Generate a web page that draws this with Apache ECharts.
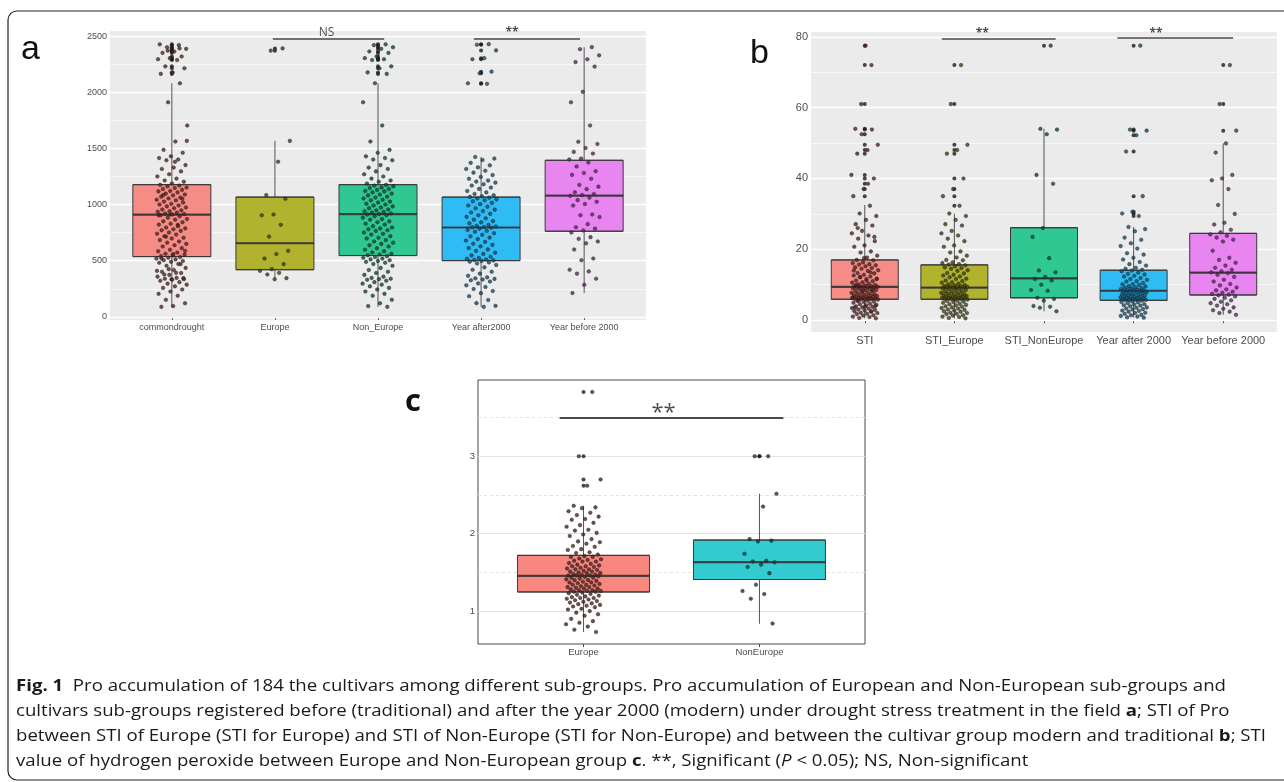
<!DOCTYPE html>
<html><head><meta charset="utf-8">
<script src="https://cdn.jsdelivr.net/npm/echarts@6/dist/echarts.min.js"></script>
<style>html,body{margin:0;padding:0;background:#fff}#c{width:1284px;height:782px}</style>
</head><body><div id="c"></div>
<script>
// ================= DATA =================
// ---- panel a : Pro accumulation ----
const catsA = ['commondrought', 'Europe', 'Non_Europe', 'Year after2000', 'Year before 2000'];
const ticksA = [0, 500, 1000, 1500, 2000, 2500];
const aEurope = [2392, 2372, 1568, 1382, 1085, 1052, 912, 905, 820, 715, 588, 560, 520, 470, 425, 410, 392, 378, 345, 335];
const aNonEurope = [2428, 2421, 2402, 2388, 2365, 2352, 2320, 2305, 2296, 2288, 2232, 2215, 2178, 2165,
  2081, 1912, 1705, 1562, 1488, 1462, 1430, 1415, 1402, 1395, 1352, 1330, 1318, 1296, 1270, 1251, 1232, 1215, 1204, 1188,
  1176, 1170, 1163, 1152, 1148, 1139, 1131, 1122, 1118, 1109, 1098, 1090, 1082, 1071, 1063, 1055, 1044, 1038, 1027, 1019, 1008, 1001, 992, 984, 975, 968, 957, 949, 941, 936, 929, 921, 917,
  912, 905, 896, 884, 872, 866, 851, 843, 830, 822, 808, 796, 788, 781, 772, 766, 752, 741, 733, 718, 705, 698, 684, 672, 661, 650, 638, 627, 612, 598, 585, 574, 562, 555, 548,
  541, 533, 527, 519, 512, 505, 498, 490, 482, 471, 455, 436, 418, 402, 391, 374, 358, 347, 340, 336, 331, 322, 309, 296, 287, 272, 258, 244, 226, 205, 188, 152, 121, 96, 89];
const aYearAfter = [2430, 2425, 2374, 2305, 2296, 2185, 2170, 2081, 2076,
  1425, 1410, 1398, 1372, 1350, 1332, 1318, 1302, 1285, 1263, 1247, 1230, 1214, 1205, 1196, 1182, 1170, 1152, 1140, 1121, 1109, 1095, 1083, 1075, 1069,
  1062, 1055, 1047, 1039, 1030, 1016, 1004, 992, 981, 968, 955, 943, 930, 918, 905, 891, 878, 866, 853, 842, 833, 821, 812, 805, 800, 798,
  794, 786, 775, 766, 758, 745, 731, 718, 706, 693, 680, 668, 652, 641, 628, 613, 601, 588, 572, 561, 548, 536, 525, 518, 511, 506, 503,
  498, 492, 485, 476, 462, 441, 420, 402, 385, 366, 352, 343, 338, 333, 326, 315, 298, 281, 266, 248, 230, 211, 184, 150, 122, 98, 89];
const aYearBefore = [2403, 2385, 2330, 2295, 2270, 2230, 2005, 1912, 1705, 1560, 1540, 1505, 1470, 1455, 1410, 1402,
  1375, 1340, 1298, 1282, 1265, 1230, 1175, 1160, 1138, 1110, 1095, 1085,
  1078, 1062, 1040, 1025, 1005, 992, 912, 905, 890, 826, 798, 786, 770,
  752, 710, 695, 672, 655, 600, 520, 505, 420, 405, 385, 340, 285, 212];
// box statistics: [lower whisker, Q1, median, Q3, upper whisker]
const aStats = [[85, 537, 910, 1178, 2081], [335, 420, 656, 1067, 1568], [89, 546, 915, 1178, 2081], [89, 501, 796, 1067, 1425], [212, 763, 1080, 1395, 2403]];

// ---- panel b : STI ----
const catsB = ['STI', 'STI_Europe', 'STI_NonEurope', 'Year after 2000', 'Year before 2000'];
const ticksB = [0, 20, 40, 60, 80];
const bEurope = [72, 61, 49.5, 48, 47, 40, 37, 35, 32.3,
  30.1, 29.4, 28.3, 27.1, 26.7, 25.2, 24.5, 23.9, 23.0, 22.3, 21.1, 20.7, 19.4, 19.1, 18.2, 17.7, 17.0, 16.9, 16.3, 16.1, 15.8, 15.7,
  15.5, 15.2, 14.9, 14.7, 14.5, 14.1, 13.9, 13.3, 13.2, 12.8, 12.6, 12.3, 12.1, 11.7, 11.6, 11.2, 11.0, 10.7, 10.6, 10.3, 10.1, 9.9, 9.8, 9.6, 9.6, 9.5, 9.4, 9.3, 9.3, 9.2,
  9.1, 9.0, 8.8, 8.7, 8.5, 8.4, 8.2, 8.1, 7.9, 7.7, 7.6, 7.5, 7.3, 7.2, 7.1, 7.0, 6.8, 6.8, 6.6, 6.6, 6.5, 6.3, 6.3, 6.2, 6.2, 6.1, 6.0, 6.0, 5.9, 5.9,
  5.8, 5.5, 5.4, 5.2, 5.1, 4.9, 4.6, 4.5, 4.3, 4.2, 3.9, 3.8, 3.6, 3.4, 3.3, 3.0, 2.9, 2.7, 2.5, 2.4, 2.1, 2.0, 1.8, 1.7, 1.4, 1.3, 1.0, 0.9, 0.6, 0.5];
const bNonEurope = [77.5, 54, 53.8, 52.5, 41, 38.5, 26, 23.5, 17.5, 14, 13.5, 12.2, 11.6, 11.2, 10, 8.5, 8.3, 6.3, 6, 5.5, 4, 3.8, 3.5, 2.5];
const bYearAfter = [77.5, 53.8, 53.5, 52.2, 47.6, 35, 30.6, 30.1, 29.4,
  26.3, 25.7, 25.1, 23.3, 22.7, 21.7, 20.9, 20.2, 18.9, 18.5, 17.6, 17.1, 16.4, 15.8, 15.4, 14.8, 14.5, 14.2,
  14.0, 13.8, 13.4, 13.1, 12.9, 12.5, 12.3, 11.9, 11.6, 11.4, 11.0, 10.9, 10.5, 10.2, 10.1, 9.9, 9.6, 9.5, 9.3, 9.2, 9.0, 8.9, 8.8, 8.6, 8.5, 8.4, 8.4,
  8.2, 8.1, 8.0, 7.8, 7.8, 7.6, 7.5, 7.3, 7.3, 7.1, 7.0, 6.9, 6.7, 6.7, 6.6, 6.4, 6.4, 6.2, 6.2, 6.1, 5.9, 5.9, 5.8, 5.8, 5.7, 5.7, 5.6,
  5.5, 5.3, 5.1, 5.0, 4.8, 4.5, 4.4, 4.2, 4.1, 3.9, 3.6, 3.5, 3.3, 3.1, 3.0, 2.7, 2.6, 2.4, 2.1, 2.0, 1.8, 1.5, 1.4, 1.2, 1.0, 0.8, 0.7];
const bYearBefore = [72, 61, 53.5,
  49.9, 47.3, 41, 40, 39.5, 37, 32.5, 30, 27.5, 27, 25.5, 24.8,
  24.2, 23.8, 23.3, 22.7, 22.2, 19.6, 17.6, 17.0, 16.2, 15.4, 14.8, 14.2, 13.8, 13.5,
  13.3, 12.8, 12.2, 11.4, 10.9, 10.2, 9.8, 9.2, 8.7, 8.4, 8.0, 7.7, 7.4, 7.2,
  7.0, 6.7, 6.3, 6.0, 5.6, 5.2, 4.8, 4.5, 4.1, 3.6, 3.2, 2.8, 2.4, 2.0, 1.5];
const bStats = [[0.5, 5.9, 9.4, 17.0, 32.5], [0.5, 5.9, 9.2, 15.6, 30.1], [2.5, 6.3, 11.8, 26.1, 54.0], [0.7, 5.6, 8.3, 14.1, 26.3], [1.5, 7.1, 13.4, 24.5, 49.9]];

// ---- panel c : hydrogen peroxide ----
const catsC = ['Europe', 'NonEurope'];
const ticksC = [1, 2, 3];
const cEurope = [3.83, 3.0, 2.70, 2.62,
  2.36, 2.34, 2.33, 2.29, 2.27, 2.24, 2.22, 2.19, 2.18, 2.14, 2.11, 2.09, 2.05, 2.04, 2.01, 1.99, 1.97, 1.93, 1.90, 1.89, 1.87, 1.84, 1.83, 1.80, 1.79, 1.76, 1.75, 1.73,
  1.71, 1.70, 1.70, 1.68, 1.67, 1.66, 1.65, 1.64, 1.64, 1.62, 1.61, 1.60, 1.59, 1.58, 1.58, 1.57, 1.56, 1.55, 1.54, 1.54, 1.53, 1.52, 1.51, 1.51, 1.50, 1.49, 1.49, 1.48, 1.47, 1.47, 1.46, 1.46, 1.46,
  1.45, 1.44, 1.43, 1.43, 1.42, 1.41, 1.40, 1.40, 1.39, 1.38, 1.37, 1.37, 1.36, 1.35, 1.34, 1.34, 1.33, 1.32, 1.31, 1.31, 1.30, 1.29, 1.29, 1.28, 1.27, 1.27, 1.26, 1.26, 1.25, 1.25,
  1.24, 1.23, 1.22, 1.21, 1.20, 1.19, 1.18, 1.17, 1.17, 1.16, 1.15, 1.14, 1.13, 1.12, 1.11, 1.10, 1.09, 1.08, 1.07, 1.06, 1.05, 1.03, 1.02, 1.00, 0.98, 0.96, 0.94, 0.90, 0.87, 0.85, 0.83, 0.80, 0.76, 0.73];
const cNonEurope = [3.0, 3.0, 2.515, 2.35, 1.93, 1.91, 1.90, 1.74, 1.65, 1.64, 1.63, 1.60, 1.57, 1.49, 1.34, 1.26, 1.22, 1.16, 0.84];
const cStats = [[0.73, 1.247, 1.455, 1.72, 2.36], [0.836, 1.408, 1.632, 1.918, 2.515]];

// significance brackets: [from (category units), to, bracket level, label, label position]
const sigA = [[0.98, 2.06, 2475, 'NS', 1.5], [2.93, 3.96, 2475, '**', 3.3]];
const sigB = [[0.86, 2.13, 79.5, '**', 1.31], [2.82, 4.11, 79.7, '**', 3.25]];
const sigC = [[-0.136, 1.136, 3.5, '**', 0.455]];

// caption
const captionLines = [
  [['Fig. 1', 'b'], ['  Pro accumulation of 184 the cultivars among different sub-groups. Pro accumulation of European and Non-European sub-groups and', 'n']],
  [['cultivars sub-groups registered before (traditional) and after the year 2000 (modern) under drought stress treatment in the field ', 'n'], ['a', 'b'], ['; STI of Pro', 'n']],
  [['between STI of Europe (STI for Europe) and STI of Non-Europe (STI for Non-Europe) and between the cultivar group modern and traditional ', 'n'], ['b', 'b'], ['; STI', 'n']],
  [['value of hydrogen peroxide between Europe and Non-European group ', 'n'], ['c', 'b'], ['. **, Significant (', 'n'], ['P', 'i'], [' < 0.05); NS, Non-significant', 'n']]
];

// ================= STYLE / LAYOUT =================
const fillsAB = ['#F58D86', '#B1B32F', '#2FC893', '#2FBCF4', '#E885F1'];
const ptsAB = ['#5A2422', '#41420F', '#114B35', '#134F6D', '#5C2C62'];
const fillsC = ['#F8887F', '#31CBD0'];
const ptsC = ['#4E2422', '#0E3E40'];

const panels = [
  { cats: catsA, groups: [aEurope.concat(aNonEurope), aEurope, aNonEurope, aYearAfter, aYearBefore], stats: aStats, ticks: ticksA, sig: sigA,
    fills: fillsAB, pts: ptsAB, grid: { left: 110, top: 31, width: 536, height: 289 }, bg: '#EBEBEB', gridCol: '#FFFFFF',
    boxW: 78, jw: 0.15, font: 9, sigFont: 12, sigBold: false, sigW: 1.6, sigDist: 0, minorDashed: false },
  { cats: catsB, groups: [bEurope.concat(bNonEurope), bEurope, bNonEurope, bYearAfter, bYearBefore], stats: bStats, ticks: ticksB, sig: sigB,
    fills: fillsAB, pts: ptsAB, grid: { left: 811, top: 32, width: 466, height: 300 }, bg: '#EBEBEB', gridCol: '#FFFFFF',
    boxW: 67, jw: 0.15, font: 11, sigFont: 12, sigBold: true, sigW: 1.6, sigDist: -2, minorDashed: false },
  { cats: catsC, groups: [cEurope, cNonEurope], stats: cStats, ticks: ticksC, sig: sigC,
    fills: fillsC, pts: ptsC, grid: { left: 478, top: 380, width: 387, height: 264 }, bg: '#FFFFFF', gridCol: '#E2E2E2',
    boxW: 132, jw: 0.1, font: 9.5, sigFont: 22, sigBold: false, sigW: 2.2, sigDist: -7, minorDashed: true, border: true }
];
panels[0].sigBoldFor = '**';

function jitter(k, w) { const f = ((k + 1) * 0.6180339887498949 + 0.13) % 1; return (f * 2 - 1) * w; }

const grids = [], xAxes = [], yAxes = [], series = [];
panels.forEach((p, pi) => {
  const all = [].concat(...p.groups);
  const lo = Math.min(...all), hi = Math.max(...all), pad = (hi - lo) * 0.05;
  const yMin = lo - pad, yMax = hi + pad;
  const n = p.cats.length;
  grids.push(Object.assign({ show: true, backgroundColor: p.bg, borderWidth: p.border ? 1 : 0, borderColor: '#4a4a4a', containLabel: false, outerBoundsMode: 'none' }, p.grid));
  const xMain = xAxes.length;
  const vals = p.cats.map((c, i) => i);
  xAxes.push({ type: 'value', gridIndex: pi, min: -0.6, max: n - 0.4, axisLine: { show: false }, splitLine: { show: false },
    axisTick: { show: true, customValues: vals, length: 3, lineStyle: { color: '#444', width: 1 } },
    axisLabel: { customValues: vals, formatter: v => p.cats[Math.round(v)], color: '#4D4D4D', fontSize: p.font, fontFamily: 'Liberation Sans', margin: 3 } });
  const xAlt = xAxes.length;
  xAxes.push({ type: 'value', gridIndex: pi, min: -0.6, max: n - 0.4, show: false });
  yAxes.push({ type: 'value', gridIndex: pi, min: yMin, max: yMax, axisLine: { show: false }, splitLine: { show: false },
    axisTick: { show: true, customValues: p.ticks, length: 3, lineStyle: { color: '#444', width: 1 } },
    axisLabel: { customValues: p.ticks, formatter: v => String(v), color: '#4D4D4D', fontSize: p.font, fontFamily: 'Liberation Sans', margin: 3 } });
  const yi = pi;
  // grid lines (major at ticks, minor between)
  const step = p.ticks[1] - p.ticks[0];
  const minors = [];
  for (let v = p.ticks[0] - step / 2; v < yMax; v += step) if (v > yMin && p.ticks.indexOf(v) < 0) minors.push(v);
  series.push({ type: 'scatter', xAxisIndex: xMain, yAxisIndex: yi, data: [], silent: true, z: 1,
    markLine: { silent: true, z: 1, symbol: ['none', 'none'], animation: false, label: { show: false },
      data: p.ticks.map(v => ({ yAxis: v, lineStyle: { color: p.gridCol, width: p.minorDashed ? 1 : 1.3, type: 'solid' } }))
        .concat(minors.map(v => ({ yAxis: v, lineStyle: { color: p.gridCol, width: p.minorDashed ? 1 : 0.6, type: p.minorDashed ? [3, 3] : 'solid' } }))) } });
  // whiskers (zero-width boxplot drawn under the boxes)
  series.push({ type: 'boxplot', xAxisIndex: xAlt, yAxisIndex: yi, boxWidth: [0, 0], silent: true, z: 2,
    itemStyle: { color: 'rgba(0,0,0,0)', borderColor: '#555', borderWidth: 1 },
    data: p.stats.map((s, i) => [i, s[0], s[1], s[2], s[3], s[4]]) });
  // boxes (Q1..Q3)
  series.push({ type: 'boxplot', xAxisIndex: xMain, yAxisIndex: yi, boxWidth: [p.boxW, p.boxW], silent: true, z: 3,
    itemStyle: { borderColor: '#383838', borderWidth: 1 },
    data: p.stats.map((s, i) => ({ value: [i, s[1], s[1], s[2], s[3], s[3]], itemStyle: { color: p.fills[i] } })) });
  // medians
  series.push({ type: 'scatter', xAxisIndex: xMain, yAxisIndex: yi, symbol: 'rect', symbolSize: [p.boxW, 2.2], silent: true, z: 4,
    itemStyle: { color: '#333' }, data: p.stats.map((s, i) => [i, s[2]]) });
  // outliers (drawn by the boxplot at the category centre)
  const outl = [];
  p.groups.forEach((g, i) => g.forEach(v => { if (v < p.stats[i][0] || v > p.stats[i][4]) outl.push([i, v]); }));
  series.push({ type: 'scatter', xAxisIndex: xMain, yAxisIndex: yi, symbolSize: 4, silent: true, z: 5, itemStyle: { color: '#1a1a1a' }, data: outl });
  // jittered points
  p.groups.forEach((g, i) => {
    series.push({ type: 'scatter', xAxisIndex: xMain, yAxisIndex: yi, symbolSize: 3.6, silent: true, z: 6,
      itemStyle: { color: p.pts[i], borderColor: '#151515', borderWidth: 0.5 },
      data: g.map((v, k) => [i + jitter(k, p.jw), v]) });
  });
  // significance brackets with their labels
  series.push({ type: 'scatter', xAxisIndex: xMain, yAxisIndex: yi, silent: true, z: 7, symbolSize: 1,
    itemStyle: { color: 'rgba(0,0,0,0)' },
    label: { show: true, position: 'top', distance: p.sigDist, color: '#1e1e1e', fontSize: p.sigFont, fontFamily: 'Open Sans', formatter: d => d.data.txt },
    data: p.sig.map(s => ({ value: [s[4], s[2]], txt: s[3],
      label: { fontWeight: (p.sigBold || (p.sigBoldFor === s[3])) ? 'bold' : 'normal' } })),
    markLine: { silent: true, z: 7, symbol: ['none', 'none'], animation: false, label: { show: false },
      lineStyle: { color: '#4a4a4a', width: p.sigW, type: 'solid' },
      data: p.sig.map(s => [{ coord: [s[0], s[2]] }, { coord: [s[1], s[2]] }]) } });
});

// caption: one common horizontal scale so the longest line ends where it does in the figure
const capX = 16, capY0 = 686, capDY = 25, capSize = 16, capLongestRight = 1266;
const mctx = document.createElement('canvas').getContext('2d');
const fontOf = t => (t === 'b' ? 'bold ' : t === 'i' ? 'italic ' : '') + capSize + 'px "Open Sans"';
const widths = captionLines.map(segs => segs.reduce((w, s) => { mctx.font = fontOf(s[1]); return w + mctx.measureText(s[0]).width; }, 0));
const capScale = (capLongestRight - capX) / Math.max(...widths);
const graphics = [
  { type: 'rect', silent: true, z: 10, shape: { x: 8, y: 11, width: 1400, height: 769, r: 9 }, style: { fill: 'none', stroke: '#222', lineWidth: 1.2 } },
  { type: 'text', silent: true, x: 21, y: 50, style: { text: 'a', font: '34px "Liberation Sans"', fill: '#111', verticalAlign: 'middle' } },
  { type: 'text', silent: true, x: 750, y: 54, style: { text: 'b', font: '34px "Liberation Sans"', fill: '#111', verticalAlign: 'middle' } },
  { type: 'text', silent: true, x: 405, y: 402, style: { text: 'c', font: 'bold 31px "Open Sans"', fill: '#111', verticalAlign: 'middle' } }
];
captionLines.forEach((segs, li) => {
  graphics.push({ type: 'text', silent: true, x: capX, y: capY0 + li * capDY, scaleX: capScale, originX: 0,
    style: { text: segs.map(s => '{' + s[1] + '|' + s[0] + '}').join(''), verticalAlign: 'middle', fill: '#1a1a1a',
      rich: { n: { font: fontOf('n'), fill: '#1a1a1a' }, b: { font: fontOf('b'), fill: '#1a1a1a' }, i: { font: fontOf('i'), fill: '#1a1a1a' } } } });
});

const chart = echarts.init(document.getElementById('c'), null, { renderer: 'canvas', width: 1284, height: 782 });
chart.setOption({ animation: false, backgroundColor: '#FFFFFF', grid: grids, xAxis: xAxes, yAxis: yAxes, series: series, graphic: graphics });
</script></body></html>
